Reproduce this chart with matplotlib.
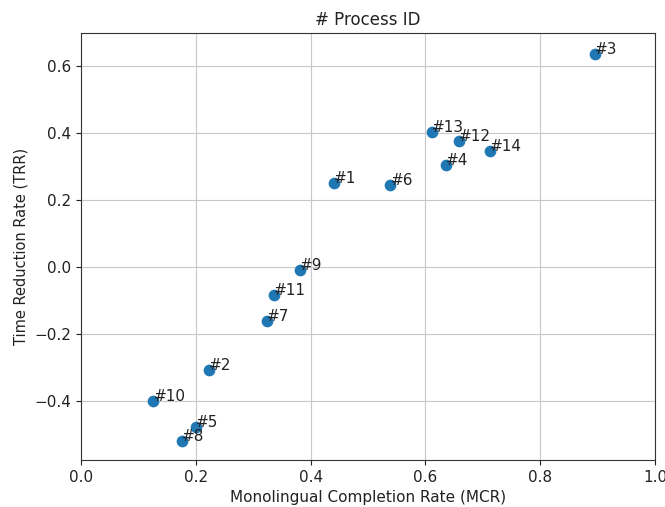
import matplotlib
matplotlib.use("Agg")
import matplotlib.pyplot as plt

# process ids with their MCR / TRR values
labels = ['#1', '#2', '#3', '#4', '#5', '#6', '#7',
          '#8', '#9', '#10', '#11', '#12', '#13', '#14']
mcr = [0.441, 0.222, 0.896, 0.636, 0.200, 0.539, 0.324,
       0.176, 0.381, 0.126, 0.336, 0.659, 0.611, 0.713]
trr = [0.250, -0.308, 0.638, 0.306, -0.480, 0.245, -0.163,
       -0.522, -0.008, -0.400, -0.085, 0.378, 0.403, 0.348]

fig, ax = plt.subplots(figsize=(6.65, 5.07), dpi=100)
ax.scatter(mcr, trr, s=55, color='#1f77b4', zorder=3)
for lab, x, y in zip(labels, mcr, trr):
    ax.annotate(lab, (x, y), fontsize=11, color='#222222', zorder=4)

ax.set_xlim(0, 1)
ax.set_ylim(-0.577, 0.70)
ax.set_xticks([0.0, 0.2, 0.4, 0.6, 0.8, 1.0])
ax.set_yticks([-0.4, -0.2, 0.0, 0.2, 0.4, 0.6])
ax.tick_params(labelsize=11, colors='#222222', labelcolor='#222222')
ax.grid(True, color='#c8c8c8')
ax.set_axisbelow(True)
for sp in ax.spines.values():
    sp.set_color('#333333')
ax.set_title('# Process ID', fontsize=12, color='#222222')
ax.set_xlabel('Monolingual Completion Rate (MCR)', fontsize=11, color='#222222')
ax.set_ylabel('Time Reduction Rate (TRR)', fontsize=10.5, color='#222222')

fig.subplots_adjust(left=0.122, right=0.985, top=0.935, bottom=0.093)
fig.savefig('out.png', dpi=100)
